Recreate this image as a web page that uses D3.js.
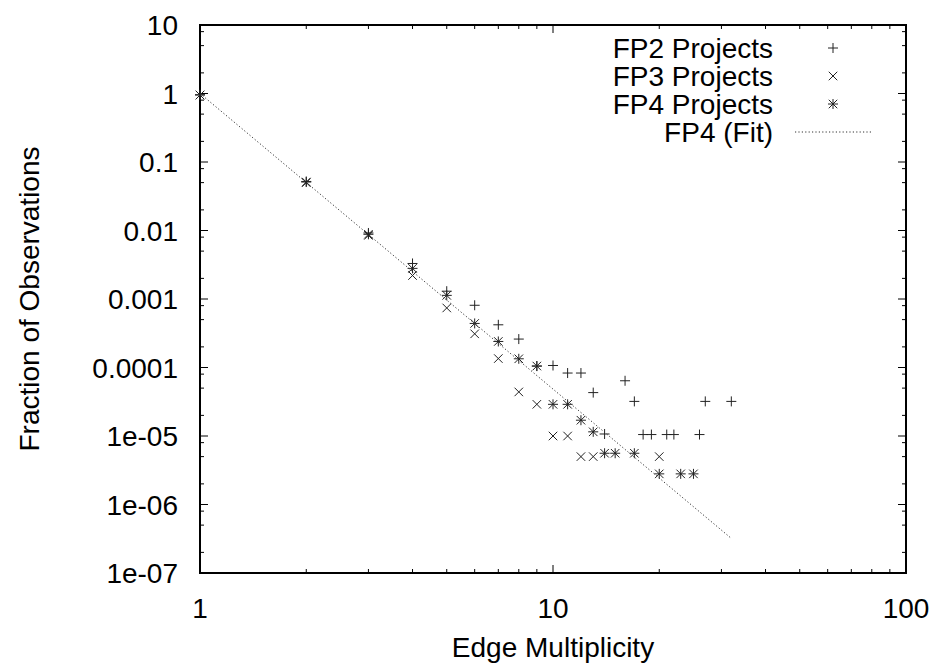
<!DOCTYPE html>
<html>
<head>
<meta charset="utf-8">
<script src="https://cdn.jsdelivr.net/npm/d3@7"></script>
<style>
  html, body { margin: 0; padding: 0; background: #fff; }
  svg text { font-family: "Liberation Sans", Arial, sans-serif; fill: #000; }
</style>
</head>
<body>
<svg id="chart" width="940" height="664"></svg>
<script>
// ---- data ----
const fp2X = [1, 2, 3, 4, 5, 6, 7, 8, 9, 10, 11, 12, 13, 14, 16, 17, 18, 19, 21, 22, 26, 27, 32];
const fp2Y = [0.96, 0.052, 0.0092, 0.0033, 0.0013, 0.00081, 0.00042, 0.00026, 0.000105, 0.000107, 0.000083, 0.000083, 0.000043, 0.0000107, 0.000064, 0.000032, 0.0000105, 0.0000105, 0.0000105, 0.0000105, 0.0000105, 0.000032, 0.000032];

const fp3X = [1, 2, 3, 4, 5, 6, 7, 8, 9, 10, 11, 12, 13, 20];
const fp3Y = [0.95, 0.05, 0.0085, 0.0022, 0.00074, 0.00031, 0.000135, 0.000044, 0.000029, 0.00001, 0.00001, 0.000005, 0.000005, 0.000005];

const fp4X = [1, 2, 3, 4, 5, 6, 7, 8, 9, 10, 11, 12, 13, 14, 15, 17, 20, 23, 25];
const fp4Y = [0.95, 0.051, 0.0088, 0.0028, 0.00113, 0.00044, 0.00024, 0.000134, 0.000105, 0.000029, 0.000029, 0.000017, 0.0000115, 0.0000056, 0.0000056, 0.0000056, 0.0000028, 0.0000028, 0.0000028];

const fitX = [1, 32];
const fitY = [1.0, 3.2e-7];

const xTickValues = [1, 10, 100];
const xTickLabels = ["1", "10", "100"];
const yTickValues = [10, 1, 0.1, 0.01, 0.001, 0.0001, 1e-5, 1e-6, 1e-7];
const yTickLabels = ["10", "1", "0.1", "0.01", "0.001", "0.0001", "1e-05", "1e-06", "1e-07"];

const legendLabels = ["FP2 Projects", "FP3 Projects", "FP4 Projects", "FP4 (Fit)"];

// ---- layout ----
const W = 940, H = 664;
const L = 200, R = 906, T = 25, B = 573;
const FS = 28;

const svg = d3.select("#chart");
const x = d3.scaleLog().domain([1, 100]).range([L, R]);
const y = d3.scaleLog().domain([1e-7, 10]).range([B, T]);

// minor ticks
const xMinor = [];
for (let d = 1; d < 100; d *= 10) for (let k = 2; k <= 9; k++) xMinor.push(d * k);
const yMinor = [];
for (let e = -7; e < 1; e++) for (const k of [2, 5, 8]) yMinor.push(k * Math.pow(10, e));

const axG = svg.append("g").attr("stroke", "#000").attr("stroke-width", 1);
const MAJ = 8, MIN = 4;
xTickValues.forEach(v => {
  axG.append("line").attr("x1", x(v)).attr("x2", x(v)).attr("y1", B).attr("y2", B - MAJ);
  axG.append("line").attr("x1", x(v)).attr("x2", x(v)).attr("y1", T).attr("y2", T + MAJ);
});
xMinor.forEach(v => {
  axG.append("line").attr("x1", x(v)).attr("x2", x(v)).attr("y1", B).attr("y2", B - MIN);
  axG.append("line").attr("x1", x(v)).attr("x2", x(v)).attr("y1", T).attr("y2", T + MIN);
});
yTickValues.forEach(v => {
  axG.append("line").attr("y1", y(v)).attr("y2", y(v)).attr("x1", L).attr("x2", L + MAJ);
  axG.append("line").attr("y1", y(v)).attr("y2", y(v)).attr("x1", R).attr("x2", R - MAJ);
});
yMinor.forEach(v => {
  axG.append("line").attr("y1", y(v)).attr("y2", y(v)).attr("x1", L).attr("x2", L + MIN);
  axG.append("line").attr("y1", y(v)).attr("y2", y(v)).attr("x1", R).attr("x2", R - MIN);
});

// frame
svg.append("rect").attr("x", L).attr("y", T).attr("width", R - L).attr("height", B - T)
  .attr("fill", "none").attr("stroke", "#000").attr("stroke-width", 2);

// tick labels
xTickValues.forEach((v, i) => {
  svg.append("text").attr("x", x(v)).attr("y", B + 45).attr("text-anchor", "middle")
    .attr("font-size", FS).text(xTickLabels[i]);
});
yTickValues.forEach((v, i) => {
  svg.append("text").attr("x", L - 22).attr("y", y(v)).attr("dy", "0.36em").attr("text-anchor", "end")
    .attr("font-size", FS).text(yTickLabels[i]);
});

// axis titles
svg.append("text").attr("x", (L + R) / 2).attr("y", 657).attr("text-anchor", "middle")
  .attr("font-size", FS).text("Edge Multiplicity");
svg.append("text").attr("transform", `translate(39,${(T + B) / 2}) rotate(-90)`)
  .attr("text-anchor", "middle").attr("font-size", FS).text("Fraction of Observations");

// markers
const S = 5;
function plus(g, cx, cy) {
  g.append("path").attr("d", `M${cx - S},${cy}H${cx + S}M${cx},${cy - S}V${cy + S}`);
}
function cross(g, cx, cy) {
  const s = S * 0.85;
  g.append("path").attr("d", `M${cx - s},${cy - s}L${cx + s},${cy + s}M${cx - s},${cy + s}L${cx + s},${cy - s}`);
}
function star(g, cx, cy) { plus(g, cx, cy); cross(g, cx, cy); }

const mk = svg.append("g").attr("stroke", "#222").attr("stroke-width", 1).attr("fill", "none");

// fit line
const line = d3.line().x(d => x(d[0])).y(d => y(d[1]));
svg.append("path").datum(fitX.map((v, i) => [v, fitY[i]])).attr("d", line)
  .attr("fill", "none").attr("stroke", "#333").attr("stroke-width", 1).attr("stroke-dasharray", "1.2,2.2");

fp2X.forEach((v, i) => plus(mk, x(v), y(fp2Y[i])));
fp3X.forEach((v, i) => cross(mk, x(v), y(fp3Y[i])));
fp4X.forEach((v, i) => star(mk, x(v), y(fp4Y[i])));

// legend
const legTextX = 773, legSymX = 833, legY0 = 48, legDY = 28;
legendLabels.forEach((t, i) => {
  svg.append("text").attr("x", legTextX).attr("y", legY0 + i * legDY).attr("dy", "0.36em")
    .attr("text-anchor", "end").attr("font-size", FS).text(t);
});
plus(mk, legSymX, legY0);
cross(mk, legSymX, legY0 + legDY);
star(mk, legSymX, legY0 + 2 * legDY);
svg.append("line").attr("x1", 795).attr("x2", 872).attr("y1", legY0 + 3 * legDY).attr("y2", legY0 + 3 * legDY)
  .attr("stroke", "#333").attr("stroke-width", 1).attr("stroke-dasharray", "1.2,2.2");
</script>
</body>
</html>
